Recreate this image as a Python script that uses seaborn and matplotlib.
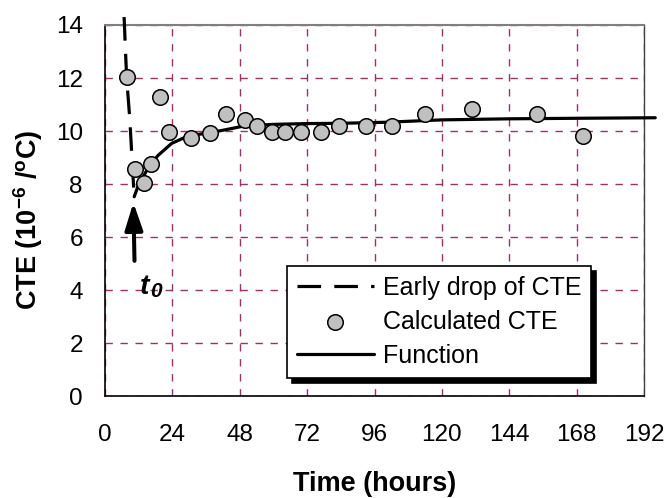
import matplotlib
matplotlib.use("Agg")
import matplotlib.pyplot as plt
import seaborn as sns
import pandas as pd

# Calculated CTE values (time in hours, CTE in 1e-6/°C)
time_h = [7.7, 10.7, 13.9, 16.4, 19.6, 22.7, 30.6, 37.4, 43.1, 49.7, 54.3,
          59.5, 64.2, 69.9, 76.8, 83.4, 92.9, 102.2, 114.1, 130.9, 154.0, 170.2]
cte = [12.03, 8.55, 8.03, 8.75, 11.3, 9.98, 9.75, 9.92, 10.65, 10.4, 10.19,
       9.97, 9.97, 9.97, 9.97, 10.19, 10.19, 10.19, 10.65, 10.84, 10.65, 9.8]

# Fitted function
fit_time = [10.4, 11.9, 14.0, 16.0, 19.0, 23.7, 28.5, 33.2, 39.2, 46.3, 49.5,
            60.0, 72.0, 84.0, 100.0, 120.0, 144.0, 168.0, 196.0]
fit_cte = [7.52, 7.96, 8.35, 8.72, 9.09, 9.53, 9.76, 9.87, 9.97, 10.12, 10.19,
           10.25, 10.28, 10.29, 10.33, 10.42, 10.46, 10.48, 10.50]

# Early drop of CTE
drop_time = [6.8, 7.7, 8.8, 9.6, 10.4]
drop_cte = [14.3, 12.0, 10.5, 9.0, 7.5]

x_ticks = [0, 24, 48, 72, 96, 120, 144, 168, 192]
y_ticks = [0, 2, 4, 6, 8, 10, 12, 14]

sns.set_style("white")
plt.rcParams["font.family"] = ["Liberation Sans", "DejaVu Sans"]
plt.rcParams["mathtext.fontset"] = "custom"
plt.rcParams["mathtext.rm"] = "Liberation Sans"
plt.rcParams["mathtext.bf"] = "Liberation Sans:bold"
plt.rcParams["mathtext.it"] = "Liberation Sans:italic"
plt.rcParams["lines.scale_dashes"] = False
for key in ("text.color", "axes.labelcolor", "xtick.color", "ytick.color"):
    plt.rcParams[key] = "black"

meas = pd.DataFrame({"t": time_h, "cte": cte})
fit = pd.DataFrame({"t": fit_time, "cte": fit_cte})
drop = pd.DataFrame({"t": drop_time, "cte": drop_cte})

fig = plt.figure(figsize=(6.68, 4.98), dpi=100)
ax = fig.add_axes([0.1572, 0.2048, 0.8069, 0.745])

sns.lineplot(data=drop, x="t", y="cte", ax=ax, sort=False, estimator=None,
             color="black", linewidth=2.3, label="Early drop of CTE",
             dashes=False, clip_on=False, zorder=3)
ax.lines[-1].set_dashes((17, 9.5))
sns.lineplot(data=fit, x="t", y="cte", ax=ax, sort=False, estimator=None,
             color="black", linewidth=2.3, label="Function", clip_on=False,
             zorder=3)
sns.scatterplot(data=meas, x="t", y="cte", ax=ax, s=125, color="#C0C0C0",
                edgecolor="black", linewidth=1.1, label="Calculated CTE",
                zorder=4)

ax.set_xlim(0, 192)
ax.set_ylim(0, 14)
ax.set_xticks(x_ticks)
ax.set_yticks(y_ticks)
ax.tick_params(axis="both", labelsize=17.5, direction="out", length=6,
               width=1, color="black", labelcolor="black", pad=10)
ax.tick_params(axis="x", pad=14)

ax.set_axisbelow(True)
ax.grid(True, color="#993366", linewidth=1, dashes=(5.3, 5.5))
for side in ("left", "bottom"):
    ax.spines[side].set_color("black")
    ax.spines[side].set_linewidth(1.2)
ax.spines["top"].set_color("#808080")
ax.spines["top"].set_linewidth(1.5)
ax.spines["right"].set_color("#404040")
ax.spines["right"].set_linewidth(1.0)

ax.set_xlabel("Time (hours)", fontsize=19.5, fontweight="bold")
ax.set_ylabel(r"CTE (10$^{\mathbf{-6}}$ /$^{\mathbf{o}}$C)", fontsize=19.5,
              fontweight="bold")
ax.xaxis.set_label_coords(0.5, -0.203)
ax.yaxis.set_label_coords(-0.112, 0.474)

# Arrow marking t0
ax.annotate("", xy=(10.1, 7.3), xytext=(10.5, 5.1),
            arrowprops=dict(arrowstyle="-|>,head_length=1.65,head_width=0.54",
                            color="black", linewidth=2.9, shrinkA=0, shrinkB=0))
ax.text(12.5, 3.85, "t", fontsize=20.5, fontweight="bold", style="italic",
        ha="left", va="baseline")
ax.text(16.0, 3.75, "0", fontsize=15, fontweight="bold", style="italic",
        ha="left", va="baseline")

handles, labels = ax.get_legend_handles_labels()
order = [labels.index(l) for l in ("Early drop of CTE", "Calculated CTE", "Function")]
leg = ax.legend([handles[i] for i in order], [labels[i] for i in order],
                loc="upper left", bbox_to_anchor=(0.337, 0.351),
                borderaxespad=0, fontsize=18, frameon=True, fancybox=False,
                edgecolor="black", framealpha=1, borderpad=0.4,
                labelspacing=0.4, handlelength=3.1, handletextpad=0.35,
                shadow={"ox": 3.5, "oy": -3.5, "color": "black", "alpha": 1})
leg.get_frame().set_linewidth(1.2)

fig.savefig("out.png", dpi=100)
